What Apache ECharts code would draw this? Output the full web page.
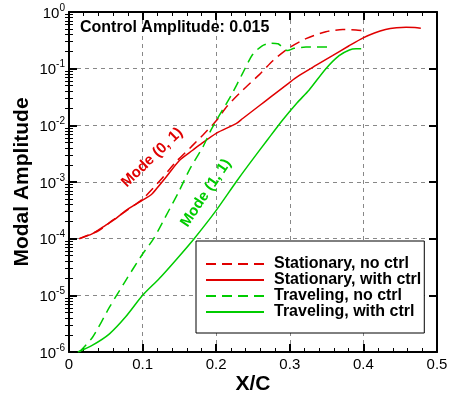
<!DOCTYPE html>
<html>
<head>
<meta charset="utf-8">
<script src="https://cdn.jsdelivr.net/npm/echarts@6/dist/echarts.min.js"></script>
<style>
  html, body { margin: 0; padding: 0; background: #fff; }
  #chart { width: 451px; height: 402px; }
</style>
</head>
<body>
<div id="chart"></div>
<script>
// Modal amplitude growth along the chord, with and without control
const statNoCtrl = [
  [0.014, 1.00e-4], [0.040, 1.38e-4], [0.060, 2.14e-4], [0.080, 3.24e-4], [0.100, 5.01e-4],
  [0.124, 1.07e-3], [0.145, 2.24e-3], [0.166, 4.17e-3], [0.182, 6.76e-3], [0.200, 1.20e-2],
  [0.215, 2.19e-2], [0.236, 4.17e-2], [0.259, 7.94e-2], [0.277, 0.138], [0.297, 0.224],
  [0.322, 0.339], [0.349, 0.447], [0.372, 0.490], [0.390, 0.479], [0.400, 0.468]
];
const statCtrl = [
  [0.014, 1.00e-4], [0.032, 1.23e-4], [0.050, 1.74e-4], [0.064, 2.29e-4], [0.080, 3.31e-4],
  [0.100, 4.79e-4], [0.112, 6.03e-4], [0.120, 7.94e-4], [0.132, 1.23e-3], [0.150, 2.40e-3],
  [0.168, 3.63e-3], [0.177, 4.47e-3], [0.200, 7.24e-3], [0.227, 1.07e-2], [0.236, 1.32e-2],
  [0.259, 2.24e-2], [0.272, 3.02e-2], [0.300, 5.75e-2], [0.313, 7.59e-2], [0.336, 0.115],
  [0.358, 0.170], [0.380, 0.251], [0.399, 0.347], [0.415, 0.427], [0.430, 0.490],
  [0.445, 0.525], [0.458, 0.537], [0.470, 0.531], [0.478, 0.519]
];
const travNoCtrl = [
  [0.014, 1.00e-6], [0.032, 1.82e-6], [0.055, 6.17e-6], [0.077, 1.82e-5], [0.100, 5.37e-5],
  [0.115, 1.00e-4], [0.130, 2.29e-4], [0.150, 7.08e-4], [0.165, 1.78e-3], [0.182, 4.17e-3],
  [0.193, 8.32e-3], [0.204, 1.48e-2], [0.220, 3.31e-2], [0.236, 8.32e-2], [0.249, 0.174],
  [0.262, 0.251], [0.275, 0.282], [0.284, 0.275], [0.297, 0.209], [0.306, 0.229],
  [0.322, 0.240], [0.354, 0.240]
];
const travCtrl = [
  [0.012, 1.00e-6], [0.032, 1.32e-6], [0.055, 2.09e-6], [0.077, 4.17e-6], [0.100, 1.00e-5],
  [0.123, 2.00e-5], [0.145, 4.17e-5], [0.170, 1.00e-4], [0.200, 3.16e-4], [0.227, 1.00e-3],
  [0.245, 2.09e-3], [0.270, 5.62e-3], [0.290, 1.23e-2], [0.310, 2.51e-2], [0.326, 4.17e-2],
  [0.349, 0.100], [0.367, 0.170], [0.381, 0.214], [0.390, 0.224], [0.397, 0.224]
];
const seriesNames = ['Stationary, no ctrl', 'Stationary, with ctrl', 'Traveling, no ctrl', 'Traveling, with ctrl'];
const yDecades = [-6, -5, -4, -3, -2, -1, 0];
const modeLabels = [
  { text: 'Mode (0, 1)', at: [0.113, 2.7e-3], angle: 44, color: 'red' },
  { text: 'Mode (1, 1)', at: [0.1860, 6.4e-4], angle: 56, color: 'green' }
];

const FONT = '"Liberation Sans", Arial, Helvetica, sans-serif';
const RED = '#e00000';
const GREEN = '#00cc00';
const COLORS = { red: RED, green: GREEN };

// log-spaced minor ticks (2..9 within each decade)
const minorValues = [];
for (let d = yDecades[0]; d < yDecades[yDecades.length - 1]; d++) {
  for (let k = 2; k <= 9; k++) minorValues.push(+(k * Math.pow(10, d)).toPrecision(3));
}

const chart = echarts.init(document.getElementById('chart'));

const gridLine = { show: true, lineStyle: { color: '#888', type: [4, 4], width: 1 } };
const frameLine = { show: true, onZero: false, lineStyle: { color: '#000', width: 2 } };

function lineSeries(name, data, color, dashed) {
  return {
    name, type: 'line', data, smooth: 0.25, symbol: 'none',
    xAxisIndex: 0, yAxisIndex: 0,
    lineStyle: { color, width: 1.5, type: dashed ? [10, 6] : 'solid' },
    itemStyle: { color },
    z: 3
  };
}

const yBase = { type: 'log', logBase: 10, min: 1e-6, max: 1, splitNumber: 6 };

chart.setOption({
  animation: false,
  backgroundColor: '#fff',
  textStyle: { fontFamily: FONT },
  title: {
    text: 'Control Amplitude: 0.015',
    left: 80, top: 20, padding: 0,
    textStyle: { fontFamily: FONT, fontSize: 16, fontWeight: 'bold', color: '#000' }
  },
  grid: { left: 69, right: 14, top: 12, bottom: 50, containLabel: false },
  legend: {
    orient: 'vertical', left: 196, top: 241,
    data: seriesNames,
    backgroundColor: '#fff', borderColor: '#000', borderWidth: 1, borderRadius: 0,
    padding: [15, 3, 13, 9], itemGap: 0, itemWidth: 58, itemHeight: 14,
    itemStyle: { opacity: 0 },
    textStyle: { fontFamily: FONT, fontSize: 16, fontWeight: 'bold', color: '#000', padding: [0, 0, 0, 5] },
    z: 10
  },
  xAxis: [
    {
      type: 'value', position: 'bottom', min: 0, max: 0.5, interval: 0.1,
      name: 'X/C', nameLocation: 'middle', nameGap: 22, nameMoveOverlap: false,
      nameTextStyle: { fontFamily: FONT, fontSize: 21, fontWeight: 'bold', color: '#000' },
      axisLine: frameLine,
      axisTick: { show: true, inside: true, length: 8, lineStyle: { color: '#000', width: 2 } },
      minorTick: { show: true, splitNumber: 5, length: 4, lineStyle: { color: '#000', width: 1 } },
      axisLabel: { fontFamily: FONT, fontSize: 15, color: '#000', margin: 5,
        formatter: v => (v === 0 ? '0' : String(+v.toFixed(1))) },
      splitLine: gridLine
    },
    {
      type: 'value', position: 'top', min: 0, max: 0.5, interval: 0.1,
      axisLine: frameLine,
      axisTick: { show: true, inside: true, length: 8, lineStyle: { color: '#000', width: 2 } },
      minorTick: { show: true, splitNumber: 5, length: 4, lineStyle: { color: '#000', width: 1 } },
      axisLabel: { show: false },
      splitLine: { show: false }
    }
  ],
  yAxis: [
    Object.assign({}, yBase, {
      position: 'left',
      name: 'Modal Amplitude', nameLocation: 'middle', nameGap: 36, nameMoveOverlap: false,
      nameTextStyle: { fontFamily: FONT, fontSize: 21, fontWeight: 'bold', color: '#000' },
      axisLine: frameLine,
      axisTick: { show: true, inside: true, length: 8, lineStyle: { color: '#000', width: 2 } },
      axisLabel: {
        margin: 4, color: '#000',
        formatter: v => '{b|10}{s|' + Math.round(Math.log10(v)) + '}',
        rich: {
          b: { fontFamily: FONT, fontSize: 15, color: '#000', lineHeight: 18, verticalAlign: 'bottom' },
          s: { fontFamily: FONT, fontSize: 10, color: '#000', lineHeight: 18, verticalAlign: 'top', padding: [0, 0, 10, 0] }
        }
      },
      splitLine: gridLine
    }),
    Object.assign({}, yBase, {
      position: 'right',
      axisLine: frameLine,
      axisTick: { show: true, inside: true, length: 8, lineStyle: { color: '#000', width: 2 } },
      axisLabel: { show: false },
      splitLine: { show: false }
    }),
    Object.assign({}, yBase, {
      position: 'right',
      axisLine: { show: false },
      axisTick: { show: true, inside: true, length: 4, customValues: minorValues, lineStyle: { color: '#000', width: 1 } },
      axisLabel: { show: false },
      splitLine: { show: false }
    }),
    Object.assign({}, yBase, {
      position: 'left',
      axisLine: { show: false },
      axisTick: { show: true, inside: true, length: 4, customValues: minorValues, lineStyle: { color: '#000', width: 1 } },
      axisLabel: { show: false },
      splitLine: { show: false }
    })
  ],
  series: [
    lineSeries(seriesNames[0], statNoCtrl, RED, true),
    lineSeries(seriesNames[1], statCtrl, RED, false),
    lineSeries(seriesNames[2], travNoCtrl, GREEN, true),
    lineSeries(seriesNames[3], travCtrl, GREEN, false)
  ]
});

// rotated mode annotations anchored at data positions
chart.setOption({
  graphic: modeLabels.map(m => {
    const p = chart.convertToPixel({ xAxisIndex: 0, yAxisIndex: 0 }, m.at);
    return {
      type: 'text', x: p[0], y: p[1], rotation: m.angle * Math.PI / 180, z: 5,
      style: {
        text: m.text, fill: COLORS[m.color], font: 'bold 15px ' + FONT,
        align: 'center', verticalAlign: 'middle'
      }
    };
  })
});
</script>
</body>
</html>
